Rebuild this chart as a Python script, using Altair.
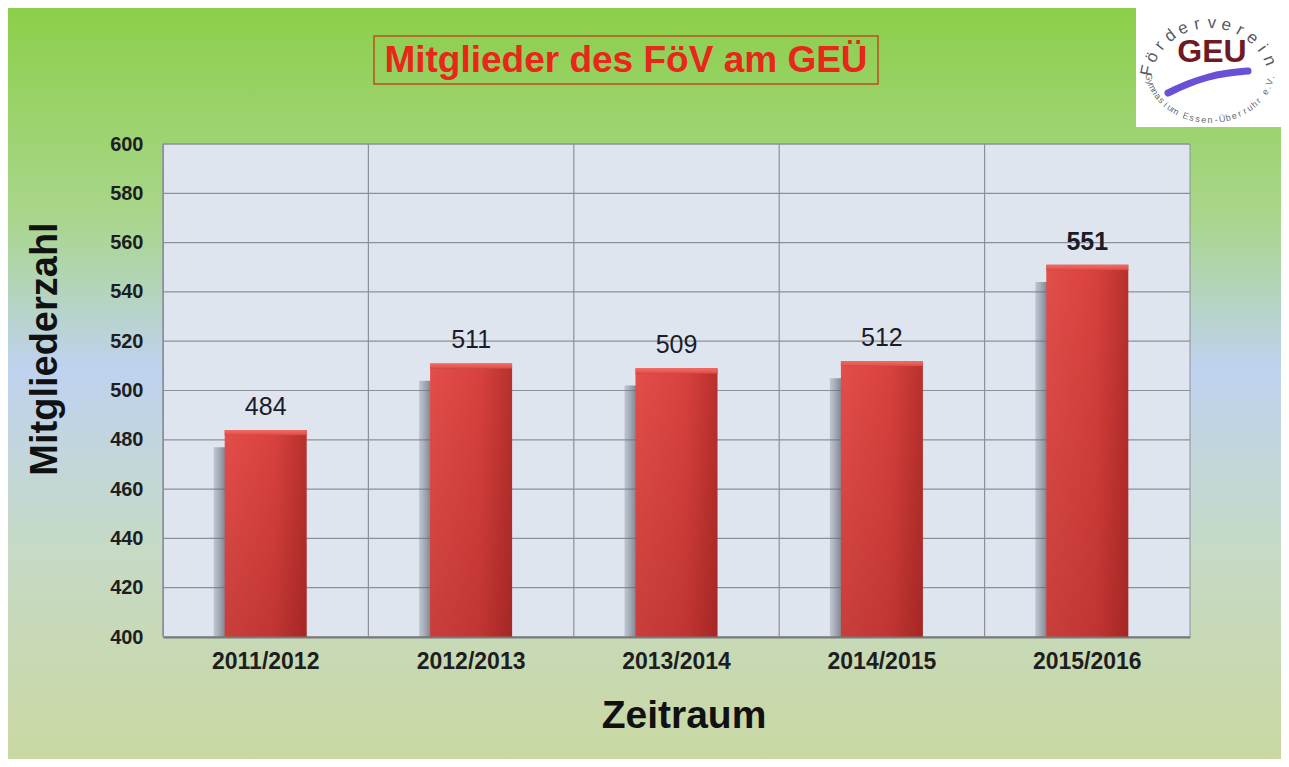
import math
import altair as alt
import pandas as pd

# ---- data ----
periods = ["2011/2012", "2012/2013", "2013/2014", "2014/2015", "2015/2016"]
members = [484, 511, 509, 512, 551]
y_ticks = [400, 420, 440, 460, 480, 500, 520, 540, 560, 580, 600]

title_text = "Mitglieder des FöV am GEÜ"
y_title = "Mitgliederzahl"
x_title = "Zeitraum"
logo_top = "Förderverein"
logo_mid = "GEU"
logo_bottom = "Gymnasium Essen-Überruhr e.V."

FONT = "Liberation Sans"
W, H = 1027, 493
PAD = {"left": 155, "top": 136, "right": 91, "bottom": 122}
BASE = y_ticks[0]

df = pd.DataFrame({"zeitraum": periods, "value": members})
ticks_df = pd.DataFrame({"t": y_ticks})
one = pd.DataFrame({"k": [0]})

yscale = alt.Scale(domain=[y_ticks[0], y_ticks[-1]], nice=False, zero=False)
xscale = alt.Scale(domain=periods, paddingInner=0, paddingOuter=0)

x_axis = alt.Axis(labelFont=FONT, labelFontSize=23, labelFontWeight="bold",
                  labelColor="#1e1e1e", labelPadding=13, ticks=False,
                  domainColor="#7a7a7a", domainWidth=2, grid=False,
                  labelAngle=0, zindex=1)
y_axis = alt.Axis(values=y_ticks, labelFont=FONT, labelFontSize=20,
                  labelFontWeight="bold", labelColor="#1e1e1e",
                  labelPadding=20, ticks=False, domainColor="#8c9099",
                  grid=False, zindex=1)

X = lambda **kw: alt.X("zeitraum:N", scale=xscale, title=None, axis=x_axis, **kw)

# ---- background ----
bg = alt.Chart(one).mark_rect(
    color=alt.Gradient(
        gradient="linear", x1=0, x2=0, y1=0, y2=1,
        stops=[
            alt.GradientStop(color="#8ccf4a", offset=0),
            alt.GradientStop(color="#a9d68c", offset=0.28),
            alt.GradientStop(color="#bfd2ef", offset=0.48),
            alt.GradientStop(color="#c6dac6", offset=0.72),
            alt.GradientStop(color="#c9d8a2", offset=1),
        ],
    )
).encode(
    x=alt.value(-PAD["left"]), x2=alt.value(W + PAD["right"]),
    y=alt.value(-PAD["top"]), y2=alt.value(H + PAD["bottom"]),
)

plotbg = alt.Chart(one).mark_rect(color="#dfe5ef", stroke="#8c9099", strokeWidth=1).encode(
    x=alt.value(0), x2=alt.value(W), y=alt.value(0), y2=alt.value(H)
)

hgrid = alt.Chart(ticks_df).mark_rule(color="#8c9099", strokeWidth=1.2).encode(
    y=alt.Y("t:Q", scale=yscale, title=None, axis=y_axis), x=alt.value(0), x2=alt.value(W)
)

vgrid = alt.Chart(df).mark_rule(color="#8c9099", strokeWidth=1.2).encode(
    x=X(bandPosition=0),
    y=alt.value(0), y2=alt.value(H),
)

shadow = alt.Chart(df).transform_calculate(s="datum.value - 7", b=str(BASE)).mark_bar(
    size=82, xOffset=-11,
    color=alt.Gradient(
        gradient="linear", x1=0, x2=1, y1=0, y2=0,
        stops=[
            alt.GradientStop(color="rgba(120,125,140,0.3)", offset=0),
            alt.GradientStop(color="rgba(95,100,115,0.7)", offset=0.13),
            alt.GradientStop(color="rgba(95,100,115,0.7)", offset=1),
        ],
    ),
).encode(
    x=X(),
    y=alt.Y("s:Q", scale=yscale, title=None, axis=y_axis),
    y2="b:Q",
)

bars = alt.Chart(df).transform_calculate(b=str(BASE)).mark_bar(
    size=82,
    color=alt.Gradient(
        gradient="linear", x1=0, x2=1, y1=0, y2=0,
        stops=[
            alt.GradientStop(color="#e34e4a", offset=0),
            alt.GradientStop(color="#d9423e", offset=0.6),
            alt.GradientStop(color="#b8302d", offset=1),
        ],
    ),
).encode(
    x=X(),
    y=alt.Y("value:Q", scale=yscale, title=None, axis=y_axis),
    y2="b:Q",
)

shade = alt.Chart(df).transform_calculate(b=str(BASE)).mark_bar(
    size=82,
    color=alt.Gradient(
        gradient="linear", x1=0, x2=0, y1=0, y2=1,
        stops=[
            alt.GradientStop(color="rgba(90,0,0,0)", offset=0),
            alt.GradientStop(color="rgba(90,0,0,0.2)", offset=1),
        ],
    ),
).encode(
    x=X(),
    y=alt.Y("value:Q", scale=yscale, title=None, axis=y_axis),
    y2="b:Q",
)

cap = alt.Chart(df).transform_calculate(c="datum.value - 2.2").mark_bar(
    size=82,
    color=alt.Gradient(
        gradient="linear", x1=0, x2=0, y1=0, y2=1,
        stops=[
            alt.GradientStop(color="#f26a64", offset=0),
            alt.GradientStop(color="#e65650", offset=0.7),
            alt.GradientStop(color="#c94440", offset=1),
        ],
    ),
).encode(
    x=X(),
    y=alt.Y("value:Q", scale=yscale, title=None, axis=y_axis),
    y2="c:Q",
)

labels = alt.Chart(df).transform_filter("datum.zeitraum != '2015/2016'").mark_text(
    font=FONT, fontSize=25, baseline="bottom", dy=-10, color="#1c1c28"
).encode(
    x=X(),
    y=alt.Y("value:Q", scale=yscale, title=None, axis=y_axis),
    text="value:Q",
)
labels_bold = alt.Chart(df).transform_filter("datum.zeitraum == '2015/2016'").mark_text(
    font=FONT, fontSize=25, fontWeight="bold", baseline="bottom", dy=-10, color="#1c1c28"
).encode(
    x=X(),
    y=alt.Y("value:Q", scale=yscale, title=None, axis=y_axis),
    text="value:Q",
)

# ---- titles ----
title_box = alt.Chart(one).mark_rect(fillOpacity=0, stroke="#b8501e", strokeWidth=1.5).encode(
    x=alt.value(211), x2=alt.value(715), y=alt.value(-108), y2=alt.value(-60)
)
title = alt.Chart(one).mark_text(
    text=title_text, font=FONT, fontSize=37, fontWeight="bold", color="#e8261a",
    align="center", baseline="middle",
).encode(x=alt.value(463), y=alt.value(-83))

ytitle = alt.Chart(one).mark_text(
    text=y_title, font=FONT, fontSize=38, fontWeight="bold", color="#111111",
    angle=270, align="center", baseline="middle",
).encode(x=alt.value(-117), y=alt.value(205))

xtitle = alt.Chart(one).mark_text(
    text=x_title, font=FONT, fontSize=39, fontWeight="bold", color="#111111",
    align="center", baseline="middle",
).encode(x=alt.value(521), y=alt.value(572))

# ---- logo (page coords -> plot coords: x-163, y-144) ----
OX, OY = -163, -144
CX = 1210
logo_bg = alt.Chart(one).mark_rect(color="white").encode(
    x=alt.value(1136 + OX), x2=alt.value(1300 + OX), y=alt.value(0 + OY), y2=alt.value(127 + OY)
)
geu = alt.Chart(one).mark_text(
    text=logo_mid, font=FONT, fontSize=32, fontWeight="bold", color="#6e1a24",
    align="center", baseline="middle",
).encode(x=alt.value(CX + 2 + OX), y=alt.value(52 + OY))

top_rows = []
n = len(logo_top)
for i, ch in enumerate(logo_top):
    th = math.radians(168 - (168 - 22) * i / (n - 1))
    px = CX + 64 * math.cos(th)
    py = 83 - 60 * math.sin(th)
    ang = (90 - math.degrees(th)) % 360
    top_rows.append({"ch": ch, "px": px + OX, "py": py + OY, "ang": ang})
top_df = pd.DataFrame(top_rows)
logo_top_layer = alt.Chart(top_df).mark_text(
    font=FONT, fontSize=17, color="#5a5868", align="center", baseline="middle"
).encode(x=alt.X("px:Q", scale=None), y=alt.Y("py:Q", scale=None),
         angle=alt.Angle("ang:Q", scale=None), text="ch:N")

bot_rows = []
m = len(logo_bottom)
for i, ch in enumerate(logo_bottom):
    th = math.radians(190 + (350 - 190) * i / (m - 1))
    px = CX + 62 * math.cos(th)
    py = 68 - 52 * math.sin(th)
    dx = -62 * math.sin(th)
    dy = -52 * math.cos(th)
    ang = math.degrees(math.atan2(dy, dx)) % 360
    bot_rows.append({"ch": ch, "px": px + OX, "py": py + OY, "ang": ang})
bot_df = pd.DataFrame(bot_rows)
logo_bot_layer = alt.Chart(bot_df).mark_text(
    font=FONT, fontSize=9, color="#6a6a72", align="center", baseline="middle"
).encode(x=alt.X("px:Q", scale=None), y=alt.Y("py:Q", scale=None),
         angle=alt.Angle("ang:Q", scale=None), text="ch:N")

arc_pts = pd.DataFrame({
    "o": [0, 1, 2, 3, 4],
    "px": [1168 + OX, 1187 + OX, 1207 + OX, 1227 + OX, 1248 + OX],
    "py": [93 + OY, 84 + OY, 77 + OY, 73 + OY, 71 + OY],
})
logo_arc = alt.Chart(arc_pts).mark_line(
    color="#6a50d6", strokeWidth=7, interpolate="basis", strokeCap="round"
).encode(x=alt.X("px:Q", scale=None), y=alt.Y("py:Q", scale=None), order="o:Q")

chart = alt.layer(
    bg, plotbg, hgrid, vgrid, shadow, bars, shade, cap, labels, labels_bold,
    title_box, title, ytitle, xtitle,
    logo_bg, logo_arc, geu, logo_top_layer, logo_bot_layer,
).properties(
    width=W, height=H, padding=PAD,
    autosize=alt.AutoSizeParams(type="none"),
    background="white",
).configure_view(stroke=None)

chart.save("out.html", embed_options={"renderer": "svg", "actions": False})
